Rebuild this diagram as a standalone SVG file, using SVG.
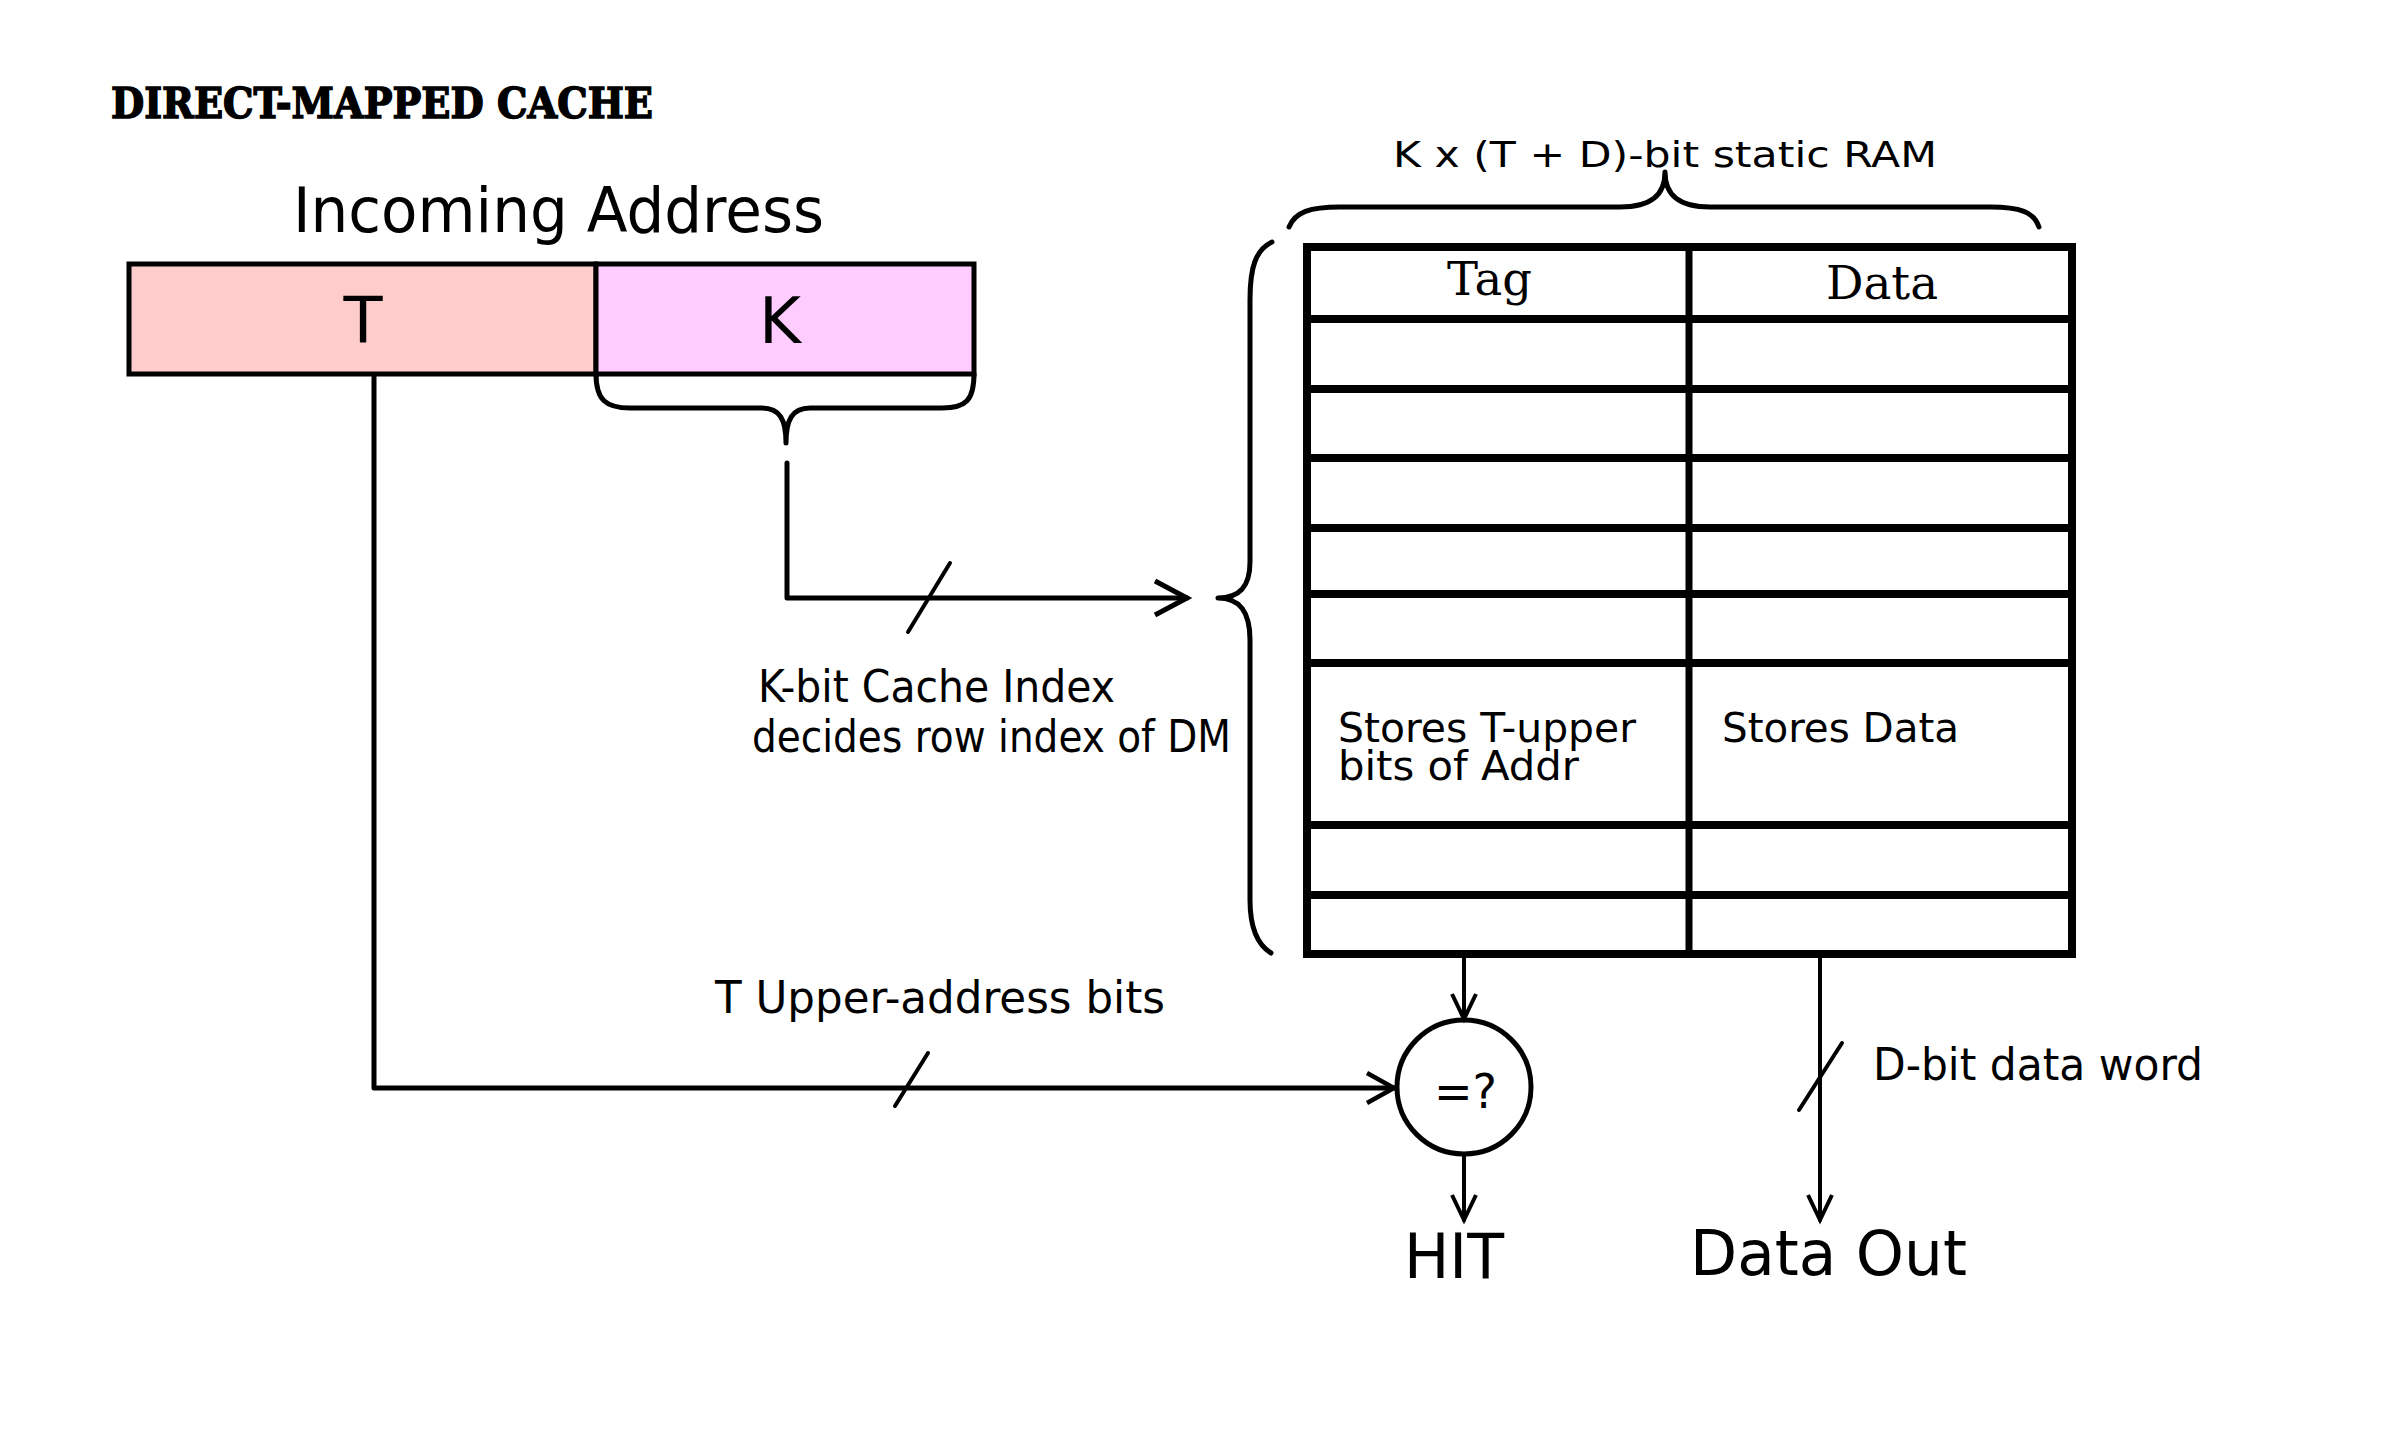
<svg xmlns="http://www.w3.org/2000/svg" width="2403" height="1436" viewBox="0 0 2403 1436">
<defs>
<style>
.hand{font-family:"DejaVu Sans","Open Sans",sans-serif;fill:#000}
.serif{font-family:"DejaVu Serif","Liberation Serif",serif;fill:#000}
.ln{fill:none;stroke:#000;stroke-width:5;stroke-linecap:round;stroke-linejoin:round}
.thin{fill:none;stroke:#000;stroke-width:4;stroke-linecap:round}
.grid{fill:none;stroke:#000;stroke-width:8}
</style>
<marker id="ahL" viewBox="0 0 34 36" refX="32" refY="18" markerWidth="34" markerHeight="36" markerUnits="userSpaceOnUse" orient="auto" overflow="visible">
<path d="M0,1 L32,18 L0,35" fill="none" stroke="#000" stroke-width="5" stroke-linejoin="miter"/>
</marker>
<marker id="ahM" viewBox="0 0 28 30" refX="27" refY="15" markerWidth="28" markerHeight="30" markerUnits="userSpaceOnUse" orient="auto" overflow="visible">
<path d="M0,0 L27,15 L0,30" fill="none" stroke="#000" stroke-width="4.5"/>
</marker>
<marker id="ahS" viewBox="0 0 26 26" refX="25" refY="12" markerWidth="26" markerHeight="26" markerUnits="userSpaceOnUse" orient="auto" overflow="visible">
<path d="M0,0 L25,12 L0,24" fill="none" stroke="#000" stroke-width="4"/>
</marker>
</defs>
<rect width="2403" height="1436" fill="#fff"/>

<text id="title" x="111" y="118" class="serif" font-size="42" font-weight="900" textLength="542" lengthAdjust="spacingAndGlyphs" stroke="#000" stroke-width="1.5">DIRECT-MAPPED CACHE</text>

<g id="address">
<text x="293" y="232" class="hand" font-size="62" textLength="531" lengthAdjust="spacingAndGlyphs">Incoming Address</text>
<rect x="129" y="264" width="467" height="110" fill="#FFCCCC" stroke="#000" stroke-width="5"/>
<rect x="596" y="264" width="378" height="110" fill="#FFCCFF" stroke="#000" stroke-width="5"/>
<text x="363" y="343" class="hand" font-size="64" text-anchor="middle">T</text>
<text x="780" y="343" class="hand" font-size="64" text-anchor="middle">K</text>
<path class="ln" d="M596,374 C596,400 606,408 630,408 L762,408 C780,408 786,420 786,443 C786,420 792,408 810,408 L942,408 C966,408 974,400 974,374"/>
</g>

<g id="ram">
<text x="1393" y="167" class="hand" font-size="36" textLength="544" lengthAdjust="spacingAndGlyphs">K x (T + D)-bit static RAM</text>
<path class="ln" d="M1289,227 C1295,212 1310,207 1340,207 L1620,207 C1650,207 1665,196 1665,172 C1665,196 1680,207 1710,207 L1990,207 C2020,207 2034,212 2039,227"/>
<path class="ln" d="M1272,242 C1256,250 1250,266 1250,300 L1250,562 C1250,586 1240,598 1218,598 C1240,598 1250,612 1250,640 L1250,900 C1250,930 1258,945 1271,953"/>
<rect class="grid" x="1307" y="247" width="765" height="707"/>
<path class="grid" d="M1307,319 H2072 M1307,389 H2072 M1307,458 H2072 M1307,528 H2072 M1307,594 H2072 M1307,663 H2072 M1307,825 H2072 M1307,895 H2072"/>
<path d="M1689,247 V954" stroke="#000" stroke-width="7"/>
<text x="1447" y="295" class="serif" font-size="46" textLength="85" lengthAdjust="spacingAndGlyphs">Tag</text>
<text x="1826" y="299" class="serif" font-size="46" textLength="112" lengthAdjust="spacingAndGlyphs">Data</text>
<text x="1338" y="742" class="hand" font-size="40" textLength="298" lengthAdjust="spacingAndGlyphs">Stores T-upper</text>
<text x="1338" y="780" class="hand" font-size="40" textLength="241" lengthAdjust="spacingAndGlyphs">bits of Addr</text>
<text x="1722" y="742" class="hand" font-size="40" textLength="237" lengthAdjust="spacingAndGlyphs">Stores Data</text>
</g>

<g id="comparator">
<circle cx="1464" cy="1087" r="67" fill="#fff" stroke="#000" stroke-width="5"/>
<text x="1434" y="1108" class="hand" font-size="48" textLength="63" lengthAdjust="spacingAndGlyphs">=?</text>
</g>

<g id="outputs">
<text x="1404" y="1278" class="hand" font-size="62" textLength="100" lengthAdjust="spacingAndGlyphs">HIT</text>
<text x="1690" y="1275" class="hand" font-size="62" textLength="277" lengthAdjust="spacingAndGlyphs">Data Out</text>
</g>

<g id="labels">
<text x="758" y="702" class="hand" font-size="44" textLength="357" lengthAdjust="spacingAndGlyphs">K-bit Cache Index</text>
<text x="752" y="752" class="hand" font-size="44" textLength="479" lengthAdjust="spacingAndGlyphs">decides row index of DM</text>
<text x="715" y="1013" class="hand" font-size="44" textLength="450" lengthAdjust="spacingAndGlyphs">T Upper-address bits</text>
<text x="1873" y="1080" class="hand" font-size="44" textLength="330" lengthAdjust="spacingAndGlyphs">D-bit data word</text>
</g>

<g id="connectors">
<path class="ln" d="M374,377 V1088 H1394" marker-end="url(#ahM)"/>
<path class="ln" d="M787,463 V598 H1187" marker-end="url(#ahL)"/>
<path class="thin" d="M950,563 L908,632"/>
<path class="thin" d="M928,1053 L895,1106"/>
<path class="thin" d="M1842,1043 L1799,1110"/>
<path class="thin" d="M1464,958 V1019" marker-end="url(#ahS)"/>
<path class="thin" d="M1464,1155 V1220" marker-end="url(#ahS)"/>
<path class="thin" d="M1820,958 V1220" marker-end="url(#ahS)"/>
</g>
</svg>
